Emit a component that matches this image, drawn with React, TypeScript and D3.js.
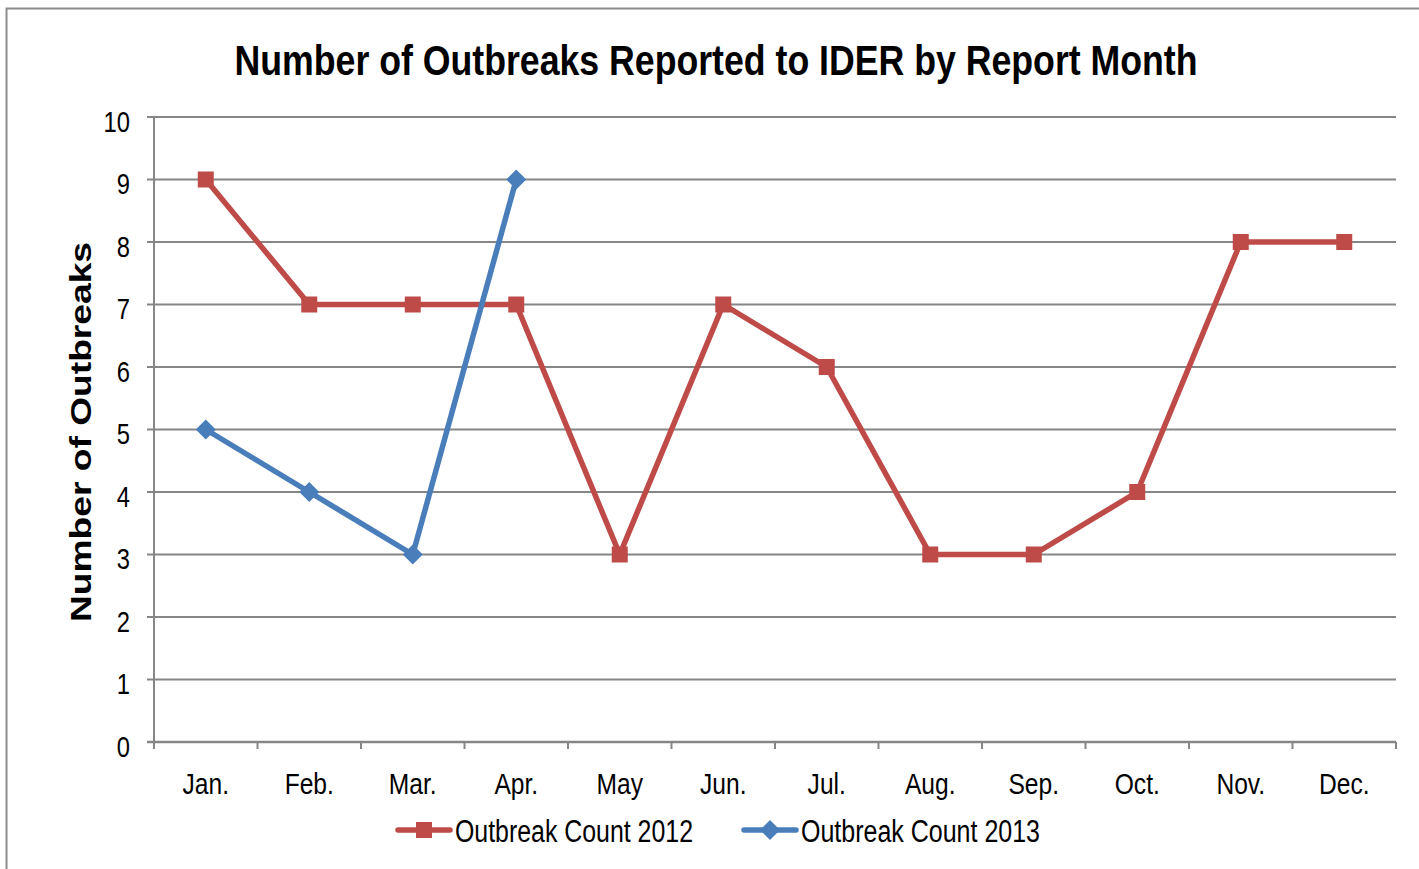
import React from "react";
import * as d3 from "d3";

const months = ["Jan.", "Feb.", "Mar.", "Apr.", "May", "Jun.", "Jul.", "Aug.", "Sep.", "Oct.", "Nov.", "Dec."];
const count2012 = [9, 7, 7, 7, 3, 7, 6, 3, 3, 4, 8, 8];
const count2013 = [5, 4, 3, 9];
const yTicks = [0, 1, 2, 3, 4, 5, 6, 7, 8, 9, 10];
const seriesNames = ["Outbreak Count 2012", "Outbreak Count 2013"];
const titleText = "Number of Outbreaks Reported to IDER by Report Month";
const yTitle = "Number of Outbreaks";

const W = 1419, H = 869;
const left = 154, right = 1396, top = 117, bottom = 742;
const RED = "#BE4B48", BLUE = "#4A7EBB", GRID = "#868686";
const NARROW = "'Liberation Sans Narrow', 'Arial Narrow', 'Liberation Sans', Arial, sans-serif";

export default function App() {
  const x = d3.scaleBand<string>().domain(months).range([left, right]);
  const y = d3.scaleLinear().domain([0, 10]).range([bottom, top]);
  const cx = (i: number) => (x(months[i]) as number) + x.bandwidth() / 2;
  const line = d3.line<number>().x((_, i) => cx(i)).y((d) => y(d));
  const boundaries = months.map((m) => x(m) as number).concat([right]);

  return (
    <svg width={W} height={H} style={{ position: "absolute", left: 0, top: 0, background: "#fff" }}>
      <rect x={0} y={0} width={W} height={H} fill="#fff" />
      <path d={`M6.5,${H} V8.5 H${W}`} fill="none" stroke="#8c8c8c" strokeWidth={2} />
      <text x={716} y={75} textAnchor="middle" fontFamily={NARROW} fontWeight="bold" fontSize={42}
        textLength={963} lengthAdjust="spacingAndGlyphs" fill="#000">{titleText}</text>
      {yTicks.map((t) => (
        <g key={t}>
          <line x1={147} x2={right} y1={y(t)} y2={y(t)} stroke={GRID} strokeWidth={t === 0 ? 2.5 : 2} />
          <text transform={`translate(130,${y(t) + 14.5}) scale(0.82,1)`} textAnchor="end" fontFamily={NARROW} fontSize={29} fill="#000">{t}</text>
        </g>
      ))}
      <line x1={left} x2={left} y1={top} y2={bottom + 7} stroke={GRID} strokeWidth={2} />
      {boundaries.map((b, i) => (
        <line key={i} x1={b} x2={b} y1={bottom} y2={bottom + 7} stroke={GRID} strokeWidth={2} />
      ))}
      {months.map((m, i) => (
        <text key={m} transform={`translate(${cx(i)},794) scale(0.82,1)`} textAnchor="middle" fontFamily={NARROW} fontSize={30} fill="#000">{m}</text>
      ))}
      <text transform={`translate(91,432) rotate(-90)`} textAnchor="middle" fontFamily="'Liberation Sans', Arial, sans-serif"
        fontWeight="bold" fontSize={29} textLength={380} lengthAdjust="spacingAndGlyphs" fill="#000">{yTitle}</text>
      <path d={line(count2012) as string} fill="none" stroke={RED} strokeWidth={5.5} strokeLinejoin="round" />
      <path d={line(count2013) as string} fill="none" stroke={BLUE} strokeWidth={5.5} strokeLinejoin="round" />
      {count2012.map((v, i) => (
        <rect key={i} x={cx(i) - 8} y={y(v) - 8} width={16} height={16} fill={RED} />
      ))}
      {count2013.map((v, i) => (
        <path key={i} d={`M${cx(i)},${y(v) - 10} L${cx(i) + 10},${y(v)} L${cx(i)},${y(v) + 10} L${cx(i) - 10},${y(v)} Z`} fill={BLUE} />
      ))}
      <g>
        <line x1={398} x2={450} y1={830} y2={830} stroke={RED} strokeWidth={5.5} strokeLinecap="round" />
        <rect x={424 - 8} y={830 - 8} width={16} height={16} fill={RED} />
        <text x={455} y={842} fontFamily={NARROW} fontSize={31} textLength={238} lengthAdjust="spacingAndGlyphs" fill="#000">{seriesNames[0]}</text>
        <line x1={744} x2={796} y1={830} y2={830} stroke={BLUE} strokeWidth={5.5} strokeLinecap="round" />
        <path d={`M770,820 L780,830 L770,840 L760,830 Z`} fill={BLUE} />
        <text x={801} y={842} fontFamily={NARROW} fontSize={31} textLength={239} lengthAdjust="spacingAndGlyphs" fill="#000">{seriesNames[1]}</text>
      </g>
    </svg>
  );
}
